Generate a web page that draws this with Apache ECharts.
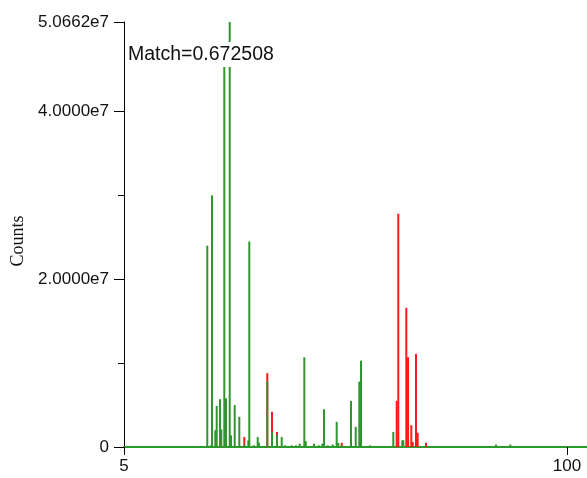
<!DOCTYPE html>
<html>
<head>
<meta charset="utf-8">
<script src="https://cdn.jsdelivr.net/npm/echarts@6/dist/echarts.min.js"></script>
<style>html,body{margin:0;padding:0;background:#fff}#c{width:587px;height:478px}</style>
</head>
<body>
<div id="c"></div>
<script>
// Library (green) spectrum: positions and counts (in units of 1e7)
const greenX = [22.86,23.59,23.87,24.58,24.88,25.59,25.87,26.51,26.87,27.67,27.95,28.74,29.73,30.80,31.66,31.87,32.88,33.67,33.95,35.73,36.74,37.81,38.82,39.53,40.96,41.89,42.68,43.67,43.97,45.75,46.82,47.53,47.89,48.68,49.76,50.61,50.96,51.69,53.68,54.69,55.46,55.83,57.76,62.75,64.68,64.90,84.78,87.84];
const greenY = [2.40,0.02,3.00,0.20,0.49,0.57,0.21,4.54,0.58,5.0662,0.14,0.50,0.36,0.03,0.08,2.45,0.02,0.12,0.05,0.78,0.18,0.14,0.12,0.02,0.02,0.02,0.04,1.07,0.07,0.04,0.02,0.04,0.45,0.02,0.03,0.30,0.05,0.02,0.55,0.24,0.78,1.03,0.02,0.18,0.08,0.08,0.03,0.03];
// Sample (red) spectrum
const redX = [30.80,35.73,36.74,37.81,51.69,63.48,63.82,65.54,65.91,66.61,66.91,67.62,67.98,69.76];
const redY = [0.12,0.88,0.42,0.18,0.05,0.55,2.78,1.66,1.07,0.26,0.06,1.11,0.17,0.05];
// Axis labels
const yLabelValues = [0, 2e7, 4e7, 5.0662e7];
const yMinorValues = [1e7, 3e7];
const xLabelValues = [5, 100];
const matchText = 'Match=0.672508';
const yName = 'Counts';

const SCALE = 1e7;
const toData = (xs, ys) => xs.map((x, i) => [x, ys[i] * SCALE]);

function stick(color) {
  return function (params, api) {
    const x = api.value(0), y = api.value(1);
    const p0 = api.coord([x, 0]);
    const p1 = api.coord([x, y]);
    return {
      type: 'rect',
      shape: { x: p0[0] - 1, y: p1[1], width: 2, height: p0[1] - p1[1] },
      style: { fill: color }
    };
  };
}

const font = 'Liberation Sans, Arial, sans-serif';
const chart = echarts.init(document.getElementById('c'), null, { renderer: 'canvas' });
chart.setOption({
  animation: false,
  backgroundColor: '#fff',
  title: {
    text: matchText,
    left: 128, top: 42,
    padding: 0,
    backgroundColor: '#fff',
    textStyle: { fontFamily: font, fontSize: 19.5, lineHeight: 25, fontWeight: 'normal', color: '#111' }
  },
  grid: { left: 124, right: 0, top: 22, bottom: 31, containLabel: false },
  xAxis: {
    type: 'value', min: 5, max: 104.29,
    splitLine: { show: false },
    axisLine: { show: true, lineStyle: { color: '#2a9a2a', width: 2 } },
    axisTick: { show: true, customValues: xLabelValues, length: 8, lineStyle: { color: '#000', width: 1 } },
    axisLabel: { customValues: xLabelValues, margin: 11, fontFamily: font, fontSize: 17, color: '#111' }
  },
  yAxis: [{
    type: 'value', min: 0, max: 5.0662e7,
    splitLine: { show: false },
    name: yName, nameLocation: 'middle', nameGap: 96, nameRotate: 90,
    nameTextStyle: { fontFamily: 'Liberation Serif, Times New Roman, serif', fontSize: 18, color: '#111', padding: [0, 13, 0, 0] },
    axisLine: { show: true, lineStyle: { color: '#000', width: 1 } },
    axisTick: { show: true, customValues: yLabelValues, length: 10, lineStyle: { color: '#000' } },
    axisLabel: {
      customValues: yLabelValues, margin: 15, fontFamily: font, fontSize: 17, color: '#111',
      formatter: v => v === 0 ? '0' : (v / 1e7).toFixed(4) + 'e7'
    }
  }, {
    type: 'value', min: 0, max: 5.0662e7, position: 'left',
    splitLine: { show: false },
    axisLine: { show: false },
    axisTick: { show: true, customValues: yMinorValues, length: 6, lineStyle: { color: '#000' } },
    axisLabel: { show: false }
  }],
  series: [{
    type: 'custom', name: 'sample', renderItem: stick('#ff1a1a'),
    encode: { x: 0, y: 1 }, data: toData(redX, redY), z: 2, clip: false
  }, {
    type: 'custom', name: 'library', renderItem: stick('#2f962f'),
    encode: { x: 0, y: 1 }, data: toData(greenX, greenY), z: 3, clip: false
  }]
});
</script>
</body>
</html>
